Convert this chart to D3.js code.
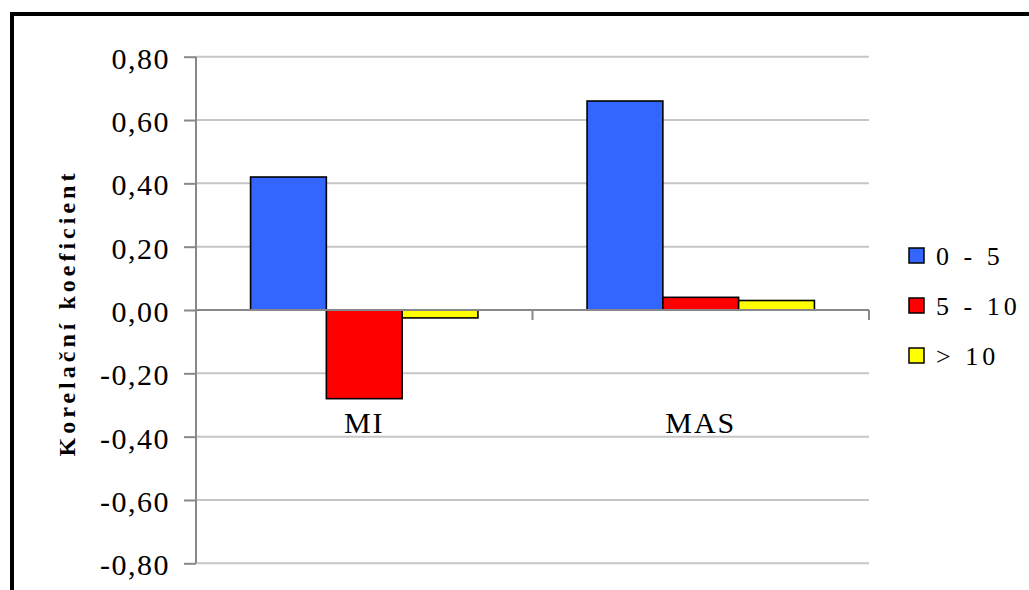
<!DOCTYPE html>
<html>
<head>
<meta charset="utf-8">
<script src="https://cdn.jsdelivr.net/npm/d3@7"></script>
<style>
  html, body { margin: 0; padding: 0; background: #fff; }
  svg { display: block; }
</style>
</head>
<body>
<svg id="chart" width="1029" height="590"></svg>
<script>
// Correlation coefficients by group and distance class
const categories = ["MI", "MAS"];
const seriesNames = ["0 - 5", "5 - 10", "> 10"];
const series0to5 = [0.42, 0.66];
const series5to10 = [-0.28, 0.04];
const seriesOver10 = [-0.025, 0.03];
const yTicks = [-0.8, -0.6, -0.4, -0.2, 0, 0.2, 0.4, 0.6, 0.8];
const colors = ["#3366FF", "#FF0000", "#FFFF00"];

const seriesValues = [series0to5, series5to10, seriesOver10];
const FONT = "'Liberation Serif', 'DejaVu Serif', 'Times New Roman', serif";

const svg = d3.select("#chart");

// outer frame
svg.append("rect")
  .attr("x", 12).attr("y", 14)
  .attr("width", 1040).attr("height", 600)
  .attr("fill", "#fff")
  .attr("stroke", "#000").attr("stroke-width", 4);

const plot = { left: 196, right: 869, top: 56.7, bottom: 563.3 };

const y = d3.scaleLinear().domain([-0.8, 0.8]).range([plot.bottom, plot.top]);
const x0 = d3.scaleBand().domain(categories).range([plot.left, plot.right]).padding(0);
const x1 = d3.scaleBand().domain(seriesNames).range([0, x0.bandwidth()])
  .paddingInner(0).paddingOuter(0.72);

const fmt = v => d3.format(".2f")(v).replace(".", ",").replace("−", "-");

// horizontal gridlines
svg.append("g").selectAll("line")
  .data(yTicks.filter(t => t !== 0))
  .join("line")
  .attr("x1", plot.left).attr("x2", plot.right)
  .attr("y1", d => y(d)).attr("y2", d => y(d))
  .attr("stroke", "#c6c6c6").attr("stroke-width", 2);

// y axis
const yAxis = d3.axisLeft(y).tickValues(yTicks).tickSize(12).tickPadding(14)
  .tickFormat(fmt);
const gy = svg.append("g").attr("transform", `translate(${plot.left},0)`).call(yAxis)
  .attr("font-family", FONT).attr("font-size", 30);
gy.select(".domain").attr("stroke", "#888").attr("stroke-width", 2)
  .attr("d", `M0,${plot.top}V${plot.bottom}`);
gy.selectAll(".tick line").attr("stroke", "#888").attr("stroke-width", 2);
gy.selectAll(".tick text").attr("fill", "#000")
  .attr("dy", "0.38em")
  .attr("letter-spacing", "1.5px");

// bars
const groups = svg.append("g").selectAll("g")
  .data(categories)
  .join("g")
  .attr("transform", d => `translate(${x0(d)},0)`);

groups.selectAll("rect")
  .data((c, ci) => seriesNames.map((s, si) => ({ s, si, v: seriesValues[si][ci] })))
  .join("rect")
  .attr("x", d => x1(d.s))
  .attr("width", x1.bandwidth())
  .attr("y", d => y(Math.max(0, d.v)))
  .attr("height", d => Math.abs(y(d.v) - y(0)))
  .attr("fill", d => colors[d.si])
  .attr("stroke", "#000").attr("stroke-width", 1.6);

// zero line with category separator ticks
const gx = svg.append("g").attr("transform", `translate(0,${y(0)})`);
gx.append("line")
  .attr("x1", plot.left).attr("x2", plot.right)
  .attr("stroke", "#888").attr("stroke-width", 2);
gx.selectAll("line.sep")
  .data(categories.slice(1).map(c => x0(c)).concat([plot.right]))
  .join("line").attr("class", "sep")
  .attr("x1", d => d).attr("x2", d => d)
  .attr("y1", 0).attr("y2", 10)
  .attr("stroke", "#888").attr("stroke-width", 2);

// category labels
svg.append("g").attr("font-family", FONT).selectAll("text")
  .data(categories)
  .join("text")
  .attr("x", d => x0(d) + x0.bandwidth() / 2)
  .attr("y", 433)
  .attr("text-anchor", "middle")
  .attr("font-size", 30)
  .attr("letter-spacing", "2px")
  .text(d => d);

// y axis title
svg.append("text")
  .attr("font-family", FONT)
  .attr("transform", `translate(75,313) rotate(-90)`)
  .attr("text-anchor", "middle")
  .attr("font-size", 24)
  .attr("font-weight", "bold")
  .attr("letter-spacing", "4px")
  .text("Korelační koeficient");

// legend
const legend = svg.append("g").attr("font-family", FONT).attr("transform", "translate(909,248)");
const items = legend.selectAll("g")
  .data(seriesNames)
  .join("g")
  .attr("transform", (d, i) => `translate(0,${i * 50})`);
items.append("rect")
  .attr("width", 15).attr("height", 15)
  .attr("fill", (d, i) => colors[i])
  .attr("stroke", "#000").attr("stroke-width", 1.5);
items.append("text")
  .attr("x", 27).attr("y", 17)
  .attr("font-size", 26)
  .attr("letter-spacing", "4px")
  .text(d => d);
</script>
</body>
</html>
